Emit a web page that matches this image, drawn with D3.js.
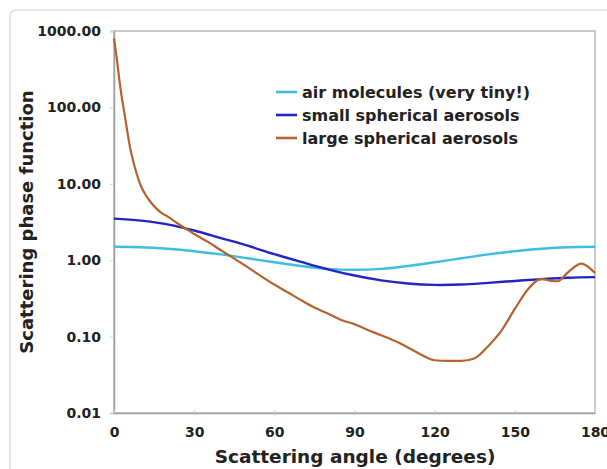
<!DOCTYPE html>
<html>
<head>
<meta charset="utf-8">
<script src="https://cdn.jsdelivr.net/npm/d3@7"></script>
<style>
  body { margin: 0; background: #fff; }
  text { font-family: "DejaVu Sans", Verdana, sans-serif; font-weight: bold; fill: #222; }
</style>
</head>
<body>
<div id="plot"></div>
<script>
// angles (degrees) for the two smooth curves
var angles = [0, 10, 20, 30, 40, 50, 60, 70, 80, 90, 100, 110, 120, 130, 140, 150, 160, 170, 180];
var airMolecules = [1.50, 1.48, 1.41, 1.31, 1.19, 1.06, 0.94, 0.84, 0.77, 0.75, 0.77, 0.84, 0.94, 1.06, 1.19, 1.31, 1.41, 1.48, 1.50];
var smallAerosols = [3.5, 3.3, 2.95, 2.45, 1.95, 1.55, 1.2, 0.95, 0.76, 0.63, 0.545, 0.495, 0.475, 0.48, 0.505, 0.535, 0.565, 0.59, 0.60];

// large aerosols read on a finer grid
var largeAngles = [0, 1, 2, 3, 4, 5, 6, 7, 8, 10, 12, 14, 16, 18, 20, 22, 24, 26, 28, 30, 35, 40, 45, 50, 55, 60, 65, 70, 75, 80, 85, 90, 95, 100, 105, 110, 115, 120, 125, 130, 135, 140, 145, 150, 155, 160, 163, 166, 170, 175, 177, 180];
var largeAerosols = [800, 450, 230, 130, 80, 48, 30, 21, 15.5, 9.5, 7, 5.6, 4.7, 4.1, 3.75, 3.35, 3.0, 2.7, 2.45, 2.2, 1.75, 1.35, 1.05, 0.81, 0.62, 0.48, 0.38, 0.30, 0.24, 0.2, 0.165, 0.145, 0.122, 0.104, 0.088, 0.072, 0.058, 0.049, 0.048, 0.048, 0.052, 0.075, 0.12, 0.23, 0.42, 0.57, 0.54, 0.53, 0.70, 0.90, 0.84, 0.68];

var xTicks = [0, 30, 60, 90, 120, 150, 180];
var yTicks = [0.01, 0.1, 1, 10, 100, 1000];

var seriesNames = ["air molecules (very tiny!)", "small spherical aerosols", "large spherical aerosols"];
var seriesColors = ["#3cbde2", "#2424c4", "#b6622c"];

var W = 607, H = 469;
var margin = { top: 31, right: 12, bottom: 56, left: 114 };

var svg = d3.select("#plot").append("svg")
    .attr("width", W)
    .attr("height", H);

// faint outer frame
svg.append("rect")
    .attr("x", 10).attr("y", 10)
    .attr("width", 640).attr("height", 500)
    .attr("rx", 6)
    .attr("fill", "none")
    .attr("stroke", "#dedede")
    .attr("stroke-width", 1.5);

var xScale = d3.scaleLinear()
    .domain([0, 180])
    .range([margin.left, W - margin.right]);

var yScale = d3.scaleLog()
    .domain([0.01, 1000])
    .range([H - margin.bottom, margin.top]);

// plot frame
svg.append("rect")
    .attr("x", xScale(0)).attr("y", yScale(1000))
    .attr("width", xScale(180) - xScale(0))
    .attr("height", yScale(0.01) - yScale(1000))
    .attr("fill", "#fff")
    .attr("stroke", "#b8b8b8")
    .attr("stroke-width", 1.5);

var yAxis = d3.axisLeft(yScale)
    .tickValues(yTicks)
    .tickSize(4)
    .tickPadding(9)
    .tickFormat(d3.format(".2f"));

var xAxis = d3.axisBottom(xScale)
    .tickValues(xTicks)
    .tickSize(0)
    .tickPadding(14)
    .tickFormat(d3.format("d"));

var yAxisDraw = svg.append("g")
    .attr("transform", "translate(" + xScale(0) + ",0)")
    .call(yAxis);

var xAxisDraw = svg.append("g")
    .attr("transform", "translate(0," + yScale(0.01) + ")")
    .call(xAxis);

[yAxisDraw, xAxisDraw].forEach(function (g) {
    g.select(".domain").attr("stroke", "#a0a0a0").attr("stroke-width", 1.5);
    g.selectAll(".tick line").attr("stroke", "#cfcfcf");
    g.selectAll(".tick text")
        .style("font-size", "14px")
        .style("font-family", "'DejaVu Sans', Verdana, sans-serif")
        .style("font-weight", "bold")
        .attr("fill", "#222");
});

// faint x tick marks on the axis
xAxisDraw.selectAll(".tick").append("line")
    .attr("y1", -3).attr("y2", 0)
    .attr("stroke", "#cfcfcf");

var smoothLine = d3.line()
    .curve(d3.curveCatmullRom)
    .x(function (d) { return xScale(d[0]); })
    .y(function (d) { return yScale(d[1]); });

var plotLine = d3.line()
    .curve(d3.curveMonotoneX)
    .x(function (d) { return xScale(d[0]); })
    .y(function (d) { return yScale(d[1]); });

var series = [
    d3.zip(angles, airMolecules),
    d3.zip(angles, smallAerosols),
    d3.zip(largeAngles, largeAerosols)
];

series.forEach(function (s, i) {
    svg.append("path")
        .datum(s)
        .attr("d", i == 2 ? plotLine : smoothLine)
        .attr("fill", "none")
        .attr("stroke", seriesColors[i])
        .attr("stroke-width", i == 2 ? 2.2 : 2.4);
});

// legend
var legend = svg.append("g").attr("transform", "translate(276,92)");
seriesNames.forEach(function (name, i) {
    var row = legend.append("g").attr("transform", "translate(0," + (i * 23) + ")");
    row.append("line")
        .attr("x1", 0).attr("x2", 21)
        .attr("stroke", seriesColors[i])
        .attr("stroke-width", 2.6);
    row.append("text")
        .attr("x", 26).attr("y", 5.5)
        .style("font-size", "16px")
        .text(name);
});

// axis titles
svg.append("text")
    .attr("x", 355).attr("y", 463)
    .attr("text-anchor", "middle")
    .style("font-size", "18.5px")
    .text("Scattering angle (degrees)");

svg.append("text")
    .attr("transform", "translate(33,222) rotate(-90)")
    .attr("text-anchor", "middle")
    .style("font-size", "18px")
    .text("Scattering phase function");
</script>
</body>
</html>
